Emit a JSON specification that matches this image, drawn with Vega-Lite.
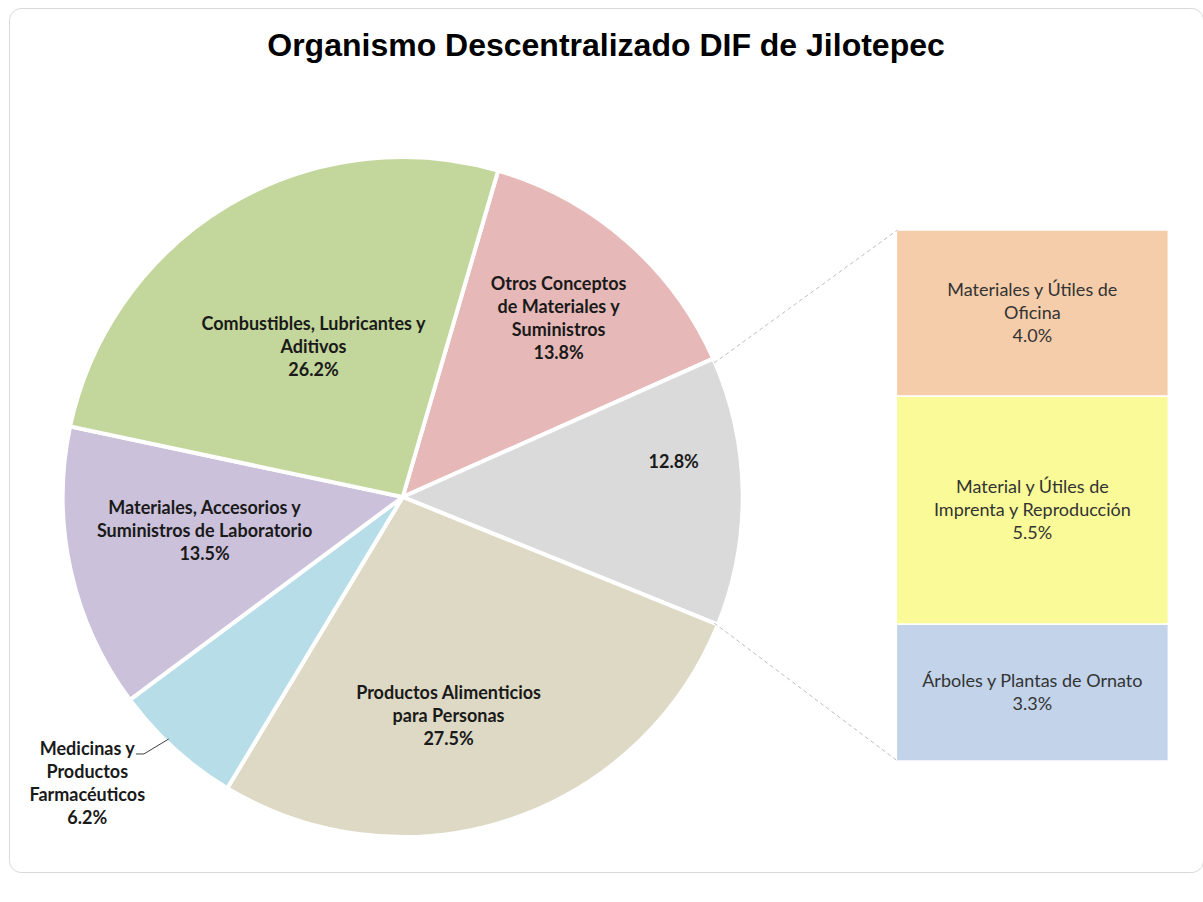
{
  "$schema": "https://vega.github.io/schema/vega-lite/v6.json",
  "width": 1194,
  "height": 864,
  "autosize": {"type": "none"},
  "padding": {"left": 9, "top": 8, "right": 0, "bottom": 30},
  "background": "white",
  "title": {
    "text": "Organismo Descentralizado DIF de Jilotepec",
    "font": "Liberation Sans",
    "fontSize": 32,
    "fontWeight": "bold",
    "color": "#000000",
    "anchor": "middle",
    "baseline": "alphabetic",
    "offset": -80
  },
  "config": {
    "view": {"stroke": "#D9D9D9", "strokeWidth": 1, "cornerRadius": 12},
    "text": {"font": "Lato"}
  },
  "datasets": {
    "pastel": [
      {"orden": 1, "concepto": "Otros Conceptos de Materiales y Suministros", "valor": 13.8, "etiqueta": "Otros Conceptos\nde Materiales y\nSuministros\n13.8%"},
      {"orden": 2, "concepto": "Materiales de Oficina, Imprenta y Ornato", "valor": 12.8, "etiqueta": "12.8%"},
      {"orden": 3, "concepto": "Productos Alimenticios para Personas", "valor": 27.5, "etiqueta": "Productos Alimenticios\npara Personas\n27.5%"},
      {"orden": 4, "concepto": "Medicinas y Productos Farmacéuticos", "valor": 6.2, "etiqueta": "Medicinas y\nProductos\nFarmacéuticos\n6.2%"},
      {"orden": 5, "concepto": "Materiales, Accesorios y Suministros de Laboratorio", "valor": 13.5, "etiqueta": "Materiales, Accesorios y\nSuministros de Laboratorio\n13.5%"},
      {"orden": 6, "concepto": "Combustibles, Lubricantes y Aditivos", "valor": 26.2, "etiqueta": "Combustibles, Lubricantes y\nAditivos\n26.2%"}
    ],
    "barra": [
      {"orden": 1, "concepto": "Árboles y Plantas de Ornato", "valor": 3.3, "etiqueta": "Árboles y Plantas de Ornato\n3.3%"},
      {"orden": 2, "concepto": "Material y Útiles de Imprenta y Reproducción", "valor": 5.5, "etiqueta": "Material y Útiles de\nImprenta y Reproducción\n5.5%"},
      {"orden": 3, "concepto": "Materiales y Útiles de Oficina", "valor": 4.0, "etiqueta": "Materiales y Útiles de\nOficina\n4.0%"}
    ]
  },
  "layer": [
    {
      "data": {"name": "pastel"},
      "mark": {"type": "arc", "outerRadius": 340, "stroke": "#FFFFFF", "strokeWidth": 4},
      "encoding": {
        "x": {"datum": 32.83, "type": "quantitative", "scale": {"domain": [0, 100], "nice": false, "zero": false}, "axis": null},
        "y": {"datum": 6.364, "type": "quantitative", "scale": {"domain": [-2.676, 18.152], "nice": false, "zero": false}, "axis": null},
        "theta": {"field": "valor", "type": "quantitative", "stack": "zero", "scale": {"range": [0.2845, 6.5677]}},
        "order": {"field": "orden", "type": "quantitative"},
        "color": {
          "field": "concepto",
          "type": "nominal",
          "legend": null,
          "scale": {
            "domain": [
              "Otros Conceptos de Materiales y Suministros",
              "Materiales de Oficina, Imprenta y Ornato",
              "Productos Alimenticios para Personas",
              "Medicinas y Productos Farmacéuticos",
              "Materiales, Accesorios y Suministros de Laboratorio",
              "Combustibles, Lubricantes y Aditivos",
              "Árboles y Plantas de Ornato",
              "Material y Útiles de Imprenta y Reproducción",
              "Materiales y Útiles de Oficina"
            ],
            "range": ["#E6B9B8", "#DADADA", "#DDD9C4", "#B7DEE8", "#CCC1DA", "#C3D69B", "#C2D3EA", "#FAFA98", "#F5CDAA"]
          }
        }
      }
    },
    {
      "data": {"name": "pastel"},
      "mark": {"type": "text", "radius": 174, "dy": -23, "fontSize": 18, "fontWeight": "bold", "lineBreak": "\n", "lineHeight": 23, "align": "center", "baseline": "middle", "color": "#1A1A1A"},
      "encoding": {
        "x": {"datum": 32.83, "type": "quantitative", "scale": {"domain": [0, 100], "nice": false, "zero": false}, "axis": null},
        "y": {"datum": 6.364, "type": "quantitative", "scale": {"domain": [-2.676, 18.152], "nice": false, "zero": false}, "axis": null},
        "theta": {"field": "valor", "type": "quantitative", "stack": "zero", "scale": {"range": [0.2845, 6.5677]}},
        "order": {"field": "orden", "type": "quantitative"},
        "detail": {"field": "concepto", "type": "nominal"},
        "text": {"condition": {"test": "datum.orden === 6", "field": "etiqueta"}, "value": ""}
      }
    },
    {
      "data": {"name": "pastel"},
      "mark": {"type": "text", "radius": 237, "dy": -34, "fontSize": 18, "fontWeight": "bold", "lineBreak": "\n", "lineHeight": 23, "align": "center", "baseline": "middle", "color": "#1A1A1A"},
      "encoding": {
        "x": {"datum": 32.83, "type": "quantitative", "scale": {"domain": [0, 100], "nice": false, "zero": false}, "axis": null},
        "y": {"datum": 6.364, "type": "quantitative", "scale": {"domain": [-2.676, 18.152], "nice": false, "zero": false}, "axis": null},
        "theta": {"field": "valor", "type": "quantitative", "stack": "zero", "scale": {"range": [0.2845, 6.5677]}},
        "order": {"field": "orden", "type": "quantitative"},
        "detail": {"field": "concepto", "type": "nominal"},
        "text": {"condition": {"test": "datum.orden === 1", "field": "etiqueta"}, "value": ""}
      }
    },
    {
      "data": {"name": "pastel"},
      "mark": {"type": "text", "radius": 271, "dy": -29, "fontSize": 18, "fontWeight": "bold", "lineBreak": "\n", "lineHeight": 23, "align": "center", "baseline": "middle", "color": "#1A1A1A"},
      "encoding": {
        "x": {"datum": 32.83, "type": "quantitative", "scale": {"domain": [0, 100], "nice": false, "zero": false}, "axis": null},
        "y": {"datum": 6.364, "type": "quantitative", "scale": {"domain": [-2.676, 18.152], "nice": false, "zero": false}, "axis": null},
        "theta": {"field": "valor", "type": "quantitative", "stack": "zero", "scale": {"range": [0.2845, 6.5677]}},
        "order": {"field": "orden", "type": "quantitative"},
        "detail": {"field": "concepto", "type": "nominal"},
        "text": {"condition": {"test": "datum.orden === 2", "field": "etiqueta"}, "value": ""}
      }
    },
    {
      "data": {"name": "pastel"},
      "mark": {"type": "text", "radius": 224, "dx": -25, "dy": -15, "fontSize": 18, "fontWeight": "bold", "lineBreak": "\n", "lineHeight": 23, "align": "center", "baseline": "middle", "color": "#1A1A1A"},
      "encoding": {
        "x": {"datum": 32.83, "type": "quantitative", "scale": {"domain": [0, 100], "nice": false, "zero": false}, "axis": null},
        "y": {"datum": 6.364, "type": "quantitative", "scale": {"domain": [-2.676, 18.152], "nice": false, "zero": false}, "axis": null},
        "theta": {"field": "valor", "type": "quantitative", "stack": "zero", "scale": {"range": [0.2845, 6.5677]}},
        "order": {"field": "orden", "type": "quantitative"},
        "detail": {"field": "concepto", "type": "nominal"},
        "text": {"condition": {"test": "datum.orden === 3", "field": "etiqueta"}, "value": ""}
      }
    },
    {
      "data": {"name": "pastel"},
      "mark": {"type": "text", "radius": 395, "dx": -50, "dy": -40, "fontSize": 18, "fontWeight": "bold", "lineBreak": "\n", "lineHeight": 23, "align": "center", "baseline": "middle", "color": "#1A1A1A"},
      "encoding": {
        "x": {"datum": 32.83, "type": "quantitative", "scale": {"domain": [0, 100], "nice": false, "zero": false}, "axis": null},
        "y": {"datum": 6.364, "type": "quantitative", "scale": {"domain": [-2.676, 18.152], "nice": false, "zero": false}, "axis": null},
        "theta": {"field": "valor", "type": "quantitative", "stack": "zero", "scale": {"range": [0.2845, 6.5677]}},
        "order": {"field": "orden", "type": "quantitative"},
        "detail": {"field": "concepto", "type": "nominal"},
        "text": {"condition": {"test": "datum.orden === 4", "field": "etiqueta"}, "value": ""}
      }
    },
    {
      "data": {"name": "pastel"},
      "mark": {"type": "text", "radius": 211, "dx": 8, "dy": -33, "fontSize": 18, "fontWeight": "bold", "lineBreak": "\n", "lineHeight": 23, "align": "center", "baseline": "middle", "color": "#1A1A1A"},
      "encoding": {
        "x": {"datum": 32.83, "type": "quantitative", "scale": {"domain": [0, 100], "nice": false, "zero": false}, "axis": null},
        "y": {"datum": 6.364, "type": "quantitative", "scale": {"domain": [-2.676, 18.152], "nice": false, "zero": false}, "axis": null},
        "theta": {"field": "valor", "type": "quantitative", "stack": "zero", "scale": {"range": [0.2845, 6.5677]}},
        "order": {"field": "orden", "type": "quantitative"},
        "detail": {"field": "concepto", "type": "nominal"},
        "text": {"condition": {"test": "datum.orden === 5", "field": "etiqueta"}, "value": ""}
      }
    },
    {
      "data": {"name": "barra"},
      "mark": {"type": "bar", "orient": "vertical", "width": 272, "stroke": "#FFFFFF", "strokeWidth": 1.5},
      "encoding": {
        "x": {"datum": 86.01, "type": "quantitative", "scale": {"domain": [0, 100], "nice": false, "zero": false}, "axis": null},
        "y": {"field": "valor", "type": "quantitative", "stack": "zero", "scale": {"domain": [-2.676, 18.152], "nice": false, "zero": false}, "axis": null},
        "order": {"field": "orden", "type": "quantitative"},
        "color": {"field": "concepto", "type": "nominal", "legend": null}
      }
    },
    {
      "data": {"name": "barra"},
      "mark": {"type": "text", "dy": -22, "fontSize": 18, "lineBreak": "\n", "lineHeight": 23, "align": "center", "baseline": "middle", "color": "#333333"},
      "encoding": {
        "x": {"datum": 86.01, "type": "quantitative", "scale": {"domain": [0, 100], "nice": false, "zero": false}, "axis": null},
        "y": {"field": "valor", "type": "quantitative", "stack": "zero", "bandPosition": 0.5, "scale": {"domain": [-2.676, 18.152], "nice": false, "zero": false}, "axis": null},
        "order": {"field": "orden", "type": "quantitative"},
        "detail": {"field": "concepto", "type": "nominal"},
        "text": {"condition": {"test": "datum.orden !== 1", "field": "etiqueta"}, "value": ""}
      }
    },
    {
      "data": {"name": "barra"},
      "mark": {"type": "text", "dy": -11, "fontSize": 18, "lineBreak": "\n", "lineHeight": 23, "align": "center", "baseline": "middle", "color": "#333333"},
      "encoding": {
        "x": {"datum": 86.01, "type": "quantitative", "scale": {"domain": [0, 100], "nice": false, "zero": false}, "axis": null},
        "y": {"field": "valor", "type": "quantitative", "stack": "zero", "bandPosition": 0.5, "scale": {"domain": [-2.676, 18.152], "nice": false, "zero": false}, "axis": null},
        "order": {"field": "orden", "type": "quantitative"},
        "detail": {"field": "concepto", "type": "nominal"},
        "text": {"condition": {"test": "datum.orden === 1", "field": "etiqueta"}, "value": ""}
      }
    },
    {
      "data": {"values": [{}]},
      "mark": {"type": "rule", "color": "#BFBFBF", "strokeWidth": 1, "strokeDash": [4, 3]},
      "encoding": {
        "x": {"datum": 59.13, "type": "quantitative", "scale": {"domain": [0, 100], "nice": false, "zero": false}, "axis": null},
        "y": {"datum": 9.594, "type": "quantitative", "scale": {"domain": [-2.676, 18.152], "nice": false, "zero": false}, "axis": null},
        "x2": {"datum": 74.62},
        "y2": {"datum": 12.8}
      }
    },
    {
      "data": {"values": [{}]},
      "mark": {"type": "rule", "color": "#BFBFBF", "strokeWidth": 1, "strokeDash": [4, 3]},
      "encoding": {
        "x": {"datum": 59.13, "type": "quantitative", "scale": {"domain": [0, 100], "nice": false, "zero": false}, "axis": null},
        "y": {"datum": 3.327, "type": "quantitative", "scale": {"domain": [-2.676, 18.152], "nice": false, "zero": false}, "axis": null},
        "x2": {"datum": 74.62},
        "y2": {"datum": 0}
      }
    },
    {
      "data": {"values": [{}]},
      "mark": {"type": "rule", "color": "#404040", "strokeWidth": 1},
      "encoding": {
        "x": {"datum": 10.3, "type": "quantitative", "scale": {"domain": [0, 100], "nice": false, "zero": false}, "axis": null},
        "y": {"datum": 0.169, "type": "quantitative", "scale": {"domain": [-2.676, 18.152], "nice": false, "zero": false}, "axis": null},
        "x2": {"datum": 10.97},
        "y2": {"datum": 0.169}
      }
    },
    {
      "data": {"values": [{}]},
      "mark": {"type": "rule", "color": "#404040", "strokeWidth": 1},
      "encoding": {
        "x": {"datum": 10.97, "type": "quantitative", "scale": {"domain": [0, 100], "nice": false, "zero": false}, "axis": null},
        "y": {"datum": 0.169, "type": "quantitative", "scale": {"domain": [-2.676, 18.152], "nice": false, "zero": false}, "axis": null},
        "x2": {"datum": 13.07},
        "y2": {"datum": 0.531}
      }
    }
  ]
}
